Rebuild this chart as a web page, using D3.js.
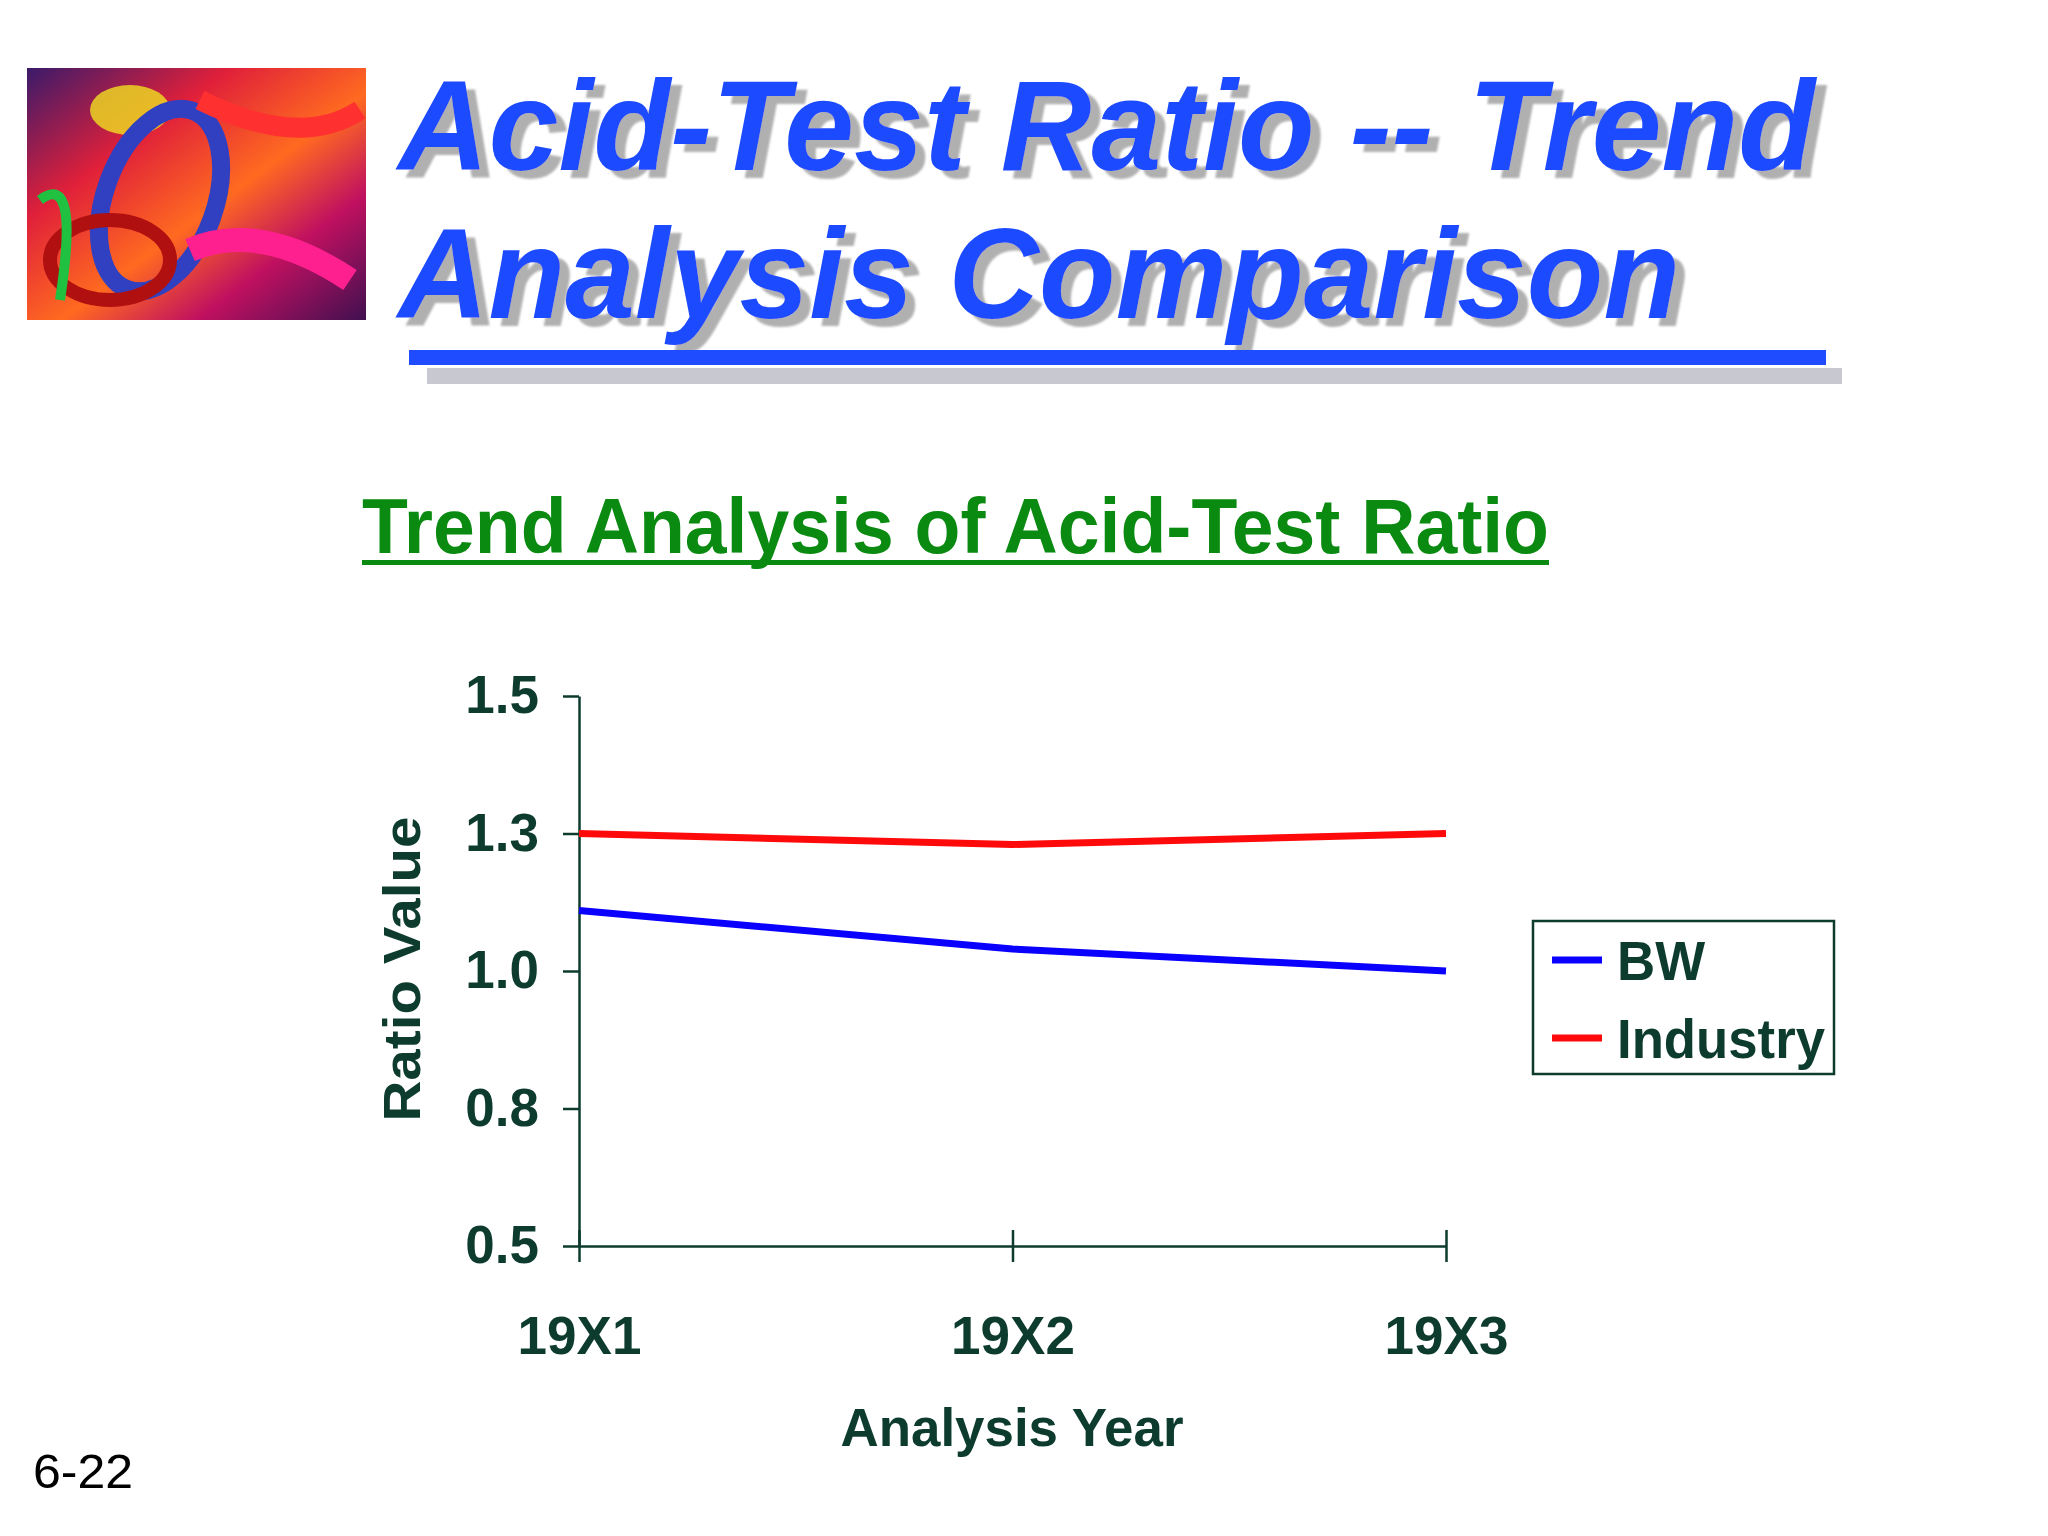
<!DOCTYPE html><html><head><meta charset="utf-8">
<script src="https://cdn.jsdelivr.net/npm/d3@7"></script>
<style>body{margin:0;background:#fff}</style></head><body>
<svg id="c" width="2048" height="1536"></svg>
<script>
const years = ["19X1","19X2","19X3"];
const bw = [1.11, 1.04, 1.00];
const industry = [1.25, 1.23, 1.25];
const yTicks = [0.5, 0.75, 1.0, 1.25, 1.5];
const seriesNames = ["BW","Industry"];
const seriesColors = ["#0a00ff","#ff0a0a"];

const svg = d3.select("#c");
const ink = "#0d3b2e";
const narrow = "'Liberation Sans Narrow','Arial Narrow','Liberation Sans',Arial,sans-serif";
const defs = svg.append("defs");
const g1 = defs.append("linearGradient").attr("id","pg").attr("x1",0).attr("y1",0).attr("x2",1).attr("y2",1);
[["0","#3a1a6a"],["0.3","#e0203a"],["0.55","#ff6a20"],["0.75","#c01060"],["1","#401050"]].forEach(s=>g1.append("stop").attr("offset",s[0]).attr("stop-color",s[1]));
const f = defs.append("filter").attr("id","sh").attr("x","-5%").attr("y","-20%").attr("width","115%").attr("height","150%");
f.append("feDropShadow").attr("dx",10).attr("dy",8).attr("stdDeviation",1).attr("flood-color","#b0b0b0").attr("flood-opacity",1);

svg.append("rect").attr("x",27).attr("y",68).attr("width",339).attr("height",252).attr("fill","url(#pg)");
const pic = svg.append("g");
pic.append("ellipse").attr("cx",130).attr("cy",110).attr("rx",40).attr("ry",25).attr("fill","#f0e020").attr("opacity",0.8);
pic.append("ellipse").attr("cx",160).attr("cy",200).attr("rx",55).attr("ry",95).attr("fill","none").attr("stroke","#3040c0").attr("stroke-width",18).attr("transform","rotate(20 160 200)");
pic.append("ellipse").attr("cx",110).attr("cy",260).attr("rx",60).attr("ry",40).attr("fill","none").attr("stroke","#b01010").attr("stroke-width",14);
pic.append("path").attr("d","M200 100 Q300 150 360 110").attr("stroke","#ff3030").attr("stroke-width",20).attr("fill","none");
pic.append("path").attr("d","M190 250 Q260 220 350 280").attr("stroke","#ff2090").attr("stroke-width",24).attr("fill","none");
pic.append("path").attr("d","M40 200 Q80 170 60 300").attr("stroke","#20c040").attr("stroke-width",10).attr("fill","none");

const tf = "'Liberation Sans',Arial,sans-serif";
[["Acid-Test Ratio -- Trend",170,1417],["Analysis Comparison",318,1282]].forEach(([t,y,w])=>{
  svg.append("text").attr("x",398).attr("y",y).text(t).attr("font-family",tf).attr("font-weight","bold").attr("font-style","italic").attr("font-size",128).attr("fill","#1f4cff").attr("filter","url(#sh)").attr("textLength",w).attr("lengthAdjust","spacingAndGlyphs");
});
svg.append("rect").attr("x",427).attr("y",368).attr("width",1415).attr("height",16).attr("fill","#c8c8d0");
svg.append("rect").attr("x",409).attr("y",350).attr("width",1417).attr("height",15).attr("fill","#1f4cff");

svg.append("text").attr("x",362).attr("y",553).text("Trend Analysis of Acid-Test Ratio").attr("font-family",narrow).attr("font-weight","bold").attr("font-size",78).attr("fill","#0a8a10").attr("textLength",1187).attr("lengthAdjust","spacingAndGlyphs");
svg.append("rect").attr("x",362).attr("y",560).attr("width",1187).attr("height",5).attr("fill","#0a8a10");

const x = d3.scalePoint().domain(years).range([579,1446]);
const y = d3.scaleLinear().domain([0.5,1.5]).range([1246,696]);
const yAx = svg.append("g").attr("transform","translate(579,0)").call(d3.axisLeft(y).tickValues(yTicks).tickFormat(d3.format(".1f")).tickSize(16).tickSizeOuter(0));
const xAx = svg.append("g").attr("transform","translate(0,1246)").call(d3.axisBottom(x).tickSize(16).tickSizeOuter(0));
[yAx,xAx].forEach(a=>{a.selectAll("path,line").attr("stroke",ink).attr("stroke-width",2.5);
 a.selectAll("text").attr("font-family",narrow).attr("font-weight","bold").attr("font-size",53).attr("fill",ink);});
yAx.selectAll("text").attr("x",-40);
xAx.selectAll(".tick line").attr("y1",-16).attr("y2",16);
xAx.selectAll("text").attr("y",70);

const line = d3.line().x((d,i)=>x(years[i])).y(d=>y(d));
[bw,industry].forEach((s,i)=>svg.append("path").attr("d",line(s)).attr("fill","none").attr("stroke",seriesColors[i]).attr("stroke-width",7));

svg.append("text").attr("transform","translate(420,969) rotate(-90)").attr("text-anchor","middle").text("Ratio Value").attr("font-family",tf).attr("font-weight","bold").attr("font-size",52).attr("fill",ink).attr("textLength",305).attr("lengthAdjust","spacingAndGlyphs");
svg.append("text").attr("x",1012).attr("y",1446).attr("text-anchor","middle").text("Analysis Year").attr("font-family",narrow).attr("font-weight","bold").attr("font-size",54).attr("fill",ink).attr("textLength",343).attr("lengthAdjust","spacingAndGlyphs");
svg.append("text").attr("x",33).attr("y",1488).text("6-22").attr("font-family",tf).attr("font-size",48).attr("fill","#000").attr("textLength",100).attr("lengthAdjust","spacingAndGlyphs");

svg.append("rect").attr("x",1533).attr("y",921).attr("width",301).attr("height",153).attr("fill","none").attr("stroke",ink).attr("stroke-width",2.5);
const lw = [88, 208];
seriesNames.forEach((n,i)=>{
  const yy = 960+i*78;
  svg.append("line").attr("x1",1552).attr("x2",1602).attr("y1",yy).attr("y2",yy).attr("stroke",seriesColors[i]).attr("stroke-width",7);
  svg.append("text").attr("x",1617).attr("y",yy+20).text(n).attr("font-family",narrow).attr("font-weight","bold").attr("font-size",56).attr("fill",ink).attr("textLength",lw[i]).attr("lengthAdjust","spacingAndGlyphs");
});
</script></body></html>
